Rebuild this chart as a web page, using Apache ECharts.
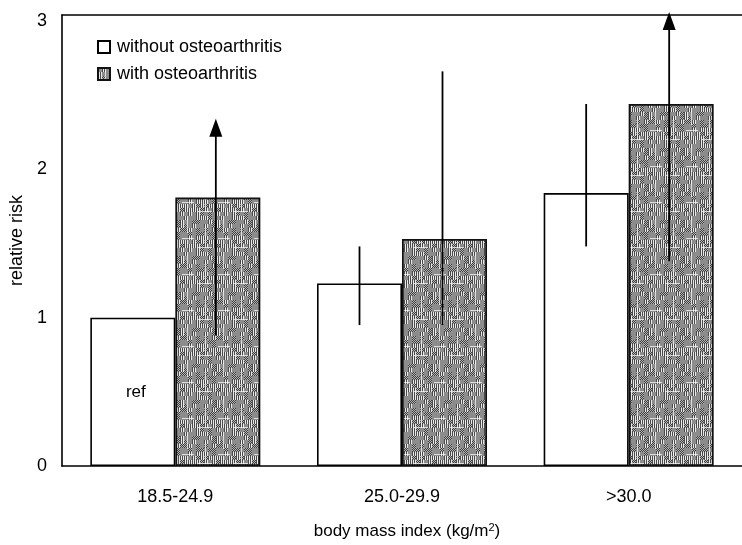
<!DOCTYPE html>
<html>
<head>
<meta charset="utf-8">
<script src="https://cdn.jsdelivr.net/npm/echarts@6/dist/echarts.min.js"></script>
<style>
  html, body { margin: 0; padding: 0; background: #fff; }
  #chart { width: 742px; height: 545px; }
</style>
</head>
<body>
<div id="chart"></div>
<script>
// BMI groups and relative risks
const categories = ['18.5-24.9', '25.0-29.9', '>30.0'];
const withoutOA = [1.0, 1.23, 1.84];
const withOA = [1.81, 1.53, 2.44];
// 95% confidence intervals: [low, high]; null = reference group
const withoutOACI = [null, [0.95, 1.48], [1.48, 2.44]];
const withOACI = [[0.88, 2.34], [0.95, 2.66], [1.38, 3.06]];
// upper limits that run off the scale are drawn with an arrow head
const withOAOpen = [true, false, true];
const yTicks = [0, 1, 2, 3];

const FONT = '"Liberation Sans", Arial, sans-serif';
const BAR_W = 85;

// blotchy grey halftone fill for the "with osteoarthritis" bars
function halftone() {
  const S = 36;
  const c = document.createElement('canvas');
  c.width = S; c.height = S;
  const g = c.getContext('2d');
  const hash = (a, b) => (((a * 374761393) ^ (b * 668265263) ^ 0x5bd1e995) * 1274126177) >>> 0;
  for (let cy = 0; cy < S; cy += 4) {
    for (let cx = 0; cx < S; cx += 4) {
      const kind = hash(cx, cy) % 6;
      for (let y = cy; y < cy + 4; y++) {
        for (let x = cx; x < cx + 4; x++) {
          let col;
          if (kind === 0 || kind === 1) col = '#8c8c8c';
          else if (kind === 2) col = ((x + y) % 2) ? '#3c3c3c' : '#b4b4b4';
          else if (kind === 3) col = (y % 2) ? '#f0f0f0' : '#555555';
          else if (kind === 4) col = (x % 2) ? '#e8e8e8' : '#4a4a4a';
          else col = ((x + y) % 2) ? '#707070' : '#a0a0a0';
          g.fillStyle = col;
          g.fillRect(x, y, 1, 1);
        }
      }
    }
  }
  // sparse light streaks
  g.fillStyle = 'rgba(255,255,255,0.7)';
  g.fillRect(7, 3, 1, 14);
  g.fillRect(2, 22, 12, 1);
  g.fillRect(25, 10, 1, 18);
  g.fillRect(18, 31, 14, 1);
  return c;
}
const greyFill = { image: halftone(), repeat: 'repeat' };

function ciData(ci, open) {
  const out = [];
  ci.forEach((r, i) => {
    if (r) out.push([i, r[0], r[1], open && open[i] ? 1 : 0]);
  });
  return out;
}

function ciRenderer(offset) {
  return function (params, api) {
    const cat = api.value(0);
    const lo = api.coord([cat, api.value(1)]);
    const hi = api.coord([cat, api.value(2)]);
    const x = lo[0] + offset;
    const children = [];
    const open = api.value(3) === 1;
    const arrowH = 18, arrowW = 13;
    children.push({
      type: 'line',
      shape: { x1: x, y1: lo[1], x2: x, y2: open ? hi[1] + arrowH - 1 : hi[1] },
      style: { stroke: '#000', lineWidth: 1.8 }
    });
    if (open) {
      children.push({
        type: 'polygon',
        shape: { points: [[x, hi[1]], [x - arrowW / 2, hi[1] + arrowH], [x + arrowW / 2, hi[1] + arrowH]] },
        style: { fill: '#000' }
      });
    }
    return { type: 'group', children: children };
  };
}

const chart = echarts.init(document.getElementById('chart'), null, { renderer: 'canvas' });

chart.setOption({
  animation: false,
  backgroundColor: '#fff',
  textStyle: { fontFamily: FONT, color: '#000' },
  grid: { left: 61, top: 15, width: 687, height: 456 },
  legend: {
    orient: 'vertical',
    left: 92,
    top: 33,
    itemWidth: 12,
    itemHeight: 12,
    itemGap: 9,
    icon: 'rect',
    textStyle: { fontFamily: FONT, fontSize: 18, color: '#000', padding: [0, 0, 0, 2] },
    data: ['without osteoarthritis', 'with osteoarthritis']
  },
  xAxis: [{
    type: 'category',
    data: categories,
    position: 'bottom',
    axisLine: { lineStyle: { color: '#000', width: 1.6 } },
    axisTick: { show: false },
    axisLabel: { fontFamily: FONT, fontSize: 18, color: '#000', margin: 22 },
    name: 'body mass index (kg/m{sup|2})',
    nameLocation: 'middle',
    nameGap: 56,
    nameTextStyle: {
      fontFamily: FONT, fontSize: 17, color: '#000', padding: [0, 0, 0, 10],
      rich: { sup: { fontFamily: FONT, fontSize: 11, color: '#000', verticalAlign: 'top', padding: [0, 0, 8, 0] } }
    }
  }, {
    type: 'category',
    data: categories,
    position: 'top',
    axisLine: { lineStyle: { color: '#000', width: 1.6 } },
    axisTick: { show: false },
    axisLabel: { show: false }
  }],
  yAxis: {
    type: 'value',
    min: yTicks[0],
    max: 3.04,
    interval: 1,
    axisLine: { show: true, lineStyle: { color: '#000', width: 1.6 } },
    axisTick: { show: false },
    splitLine: { show: false },
    axisLabel: {
      fontFamily: FONT, fontSize: 18, color: '#000', margin: 15,
      showMaxLabel: false,
      formatter: v => (yTicks.indexOf(v) >= 0 ? String(v) : '')
    },
    name: 'relative risk',
    nameLocation: 'middle',
    nameGap: 36,
    nameTextStyle: { fontFamily: FONT, fontSize: 18, color: '#000' }
  },
  series: [{
    name: 'without osteoarthritis',
    type: 'bar',
    barWidth: BAR_W,
    barGap: '0%',
    itemStyle: { color: '#fff', borderColor: '#000', borderWidth: 1.6 },
    data: withoutOA.map((v, i) => i === 0 ? {
      value: v,
      label: { show: true, position: 'inside', formatter: 'ref', fontFamily: FONT, fontSize: 17, color: '#000', offset: [3, 0] }
    } : v)
  }, {
    name: 'with osteoarthritis',
    type: 'bar',
    barWidth: BAR_W,
    barGap: '0%',
    itemStyle: { color: greyFill, borderColor: '#111', borderWidth: 1.8 },
    data: withOA
  }, {
    type: 'custom',
    name: 'ci without',
    clip: false,
    z: 5,
    renderItem: ciRenderer(-BAR_W / 2),
    encode: { x: 0, y: [1, 2] },
    data: ciData(withoutOACI, null)
  }, {
    type: 'custom',
    name: 'ci with',
    clip: false,
    z: 5,
    renderItem: ciRenderer(BAR_W / 2 - 2),
    encode: { x: 0, y: [1, 2] },
    data: ciData(withOACI, withOAOpen)
  }]
});
</script>
</body>
</html>
